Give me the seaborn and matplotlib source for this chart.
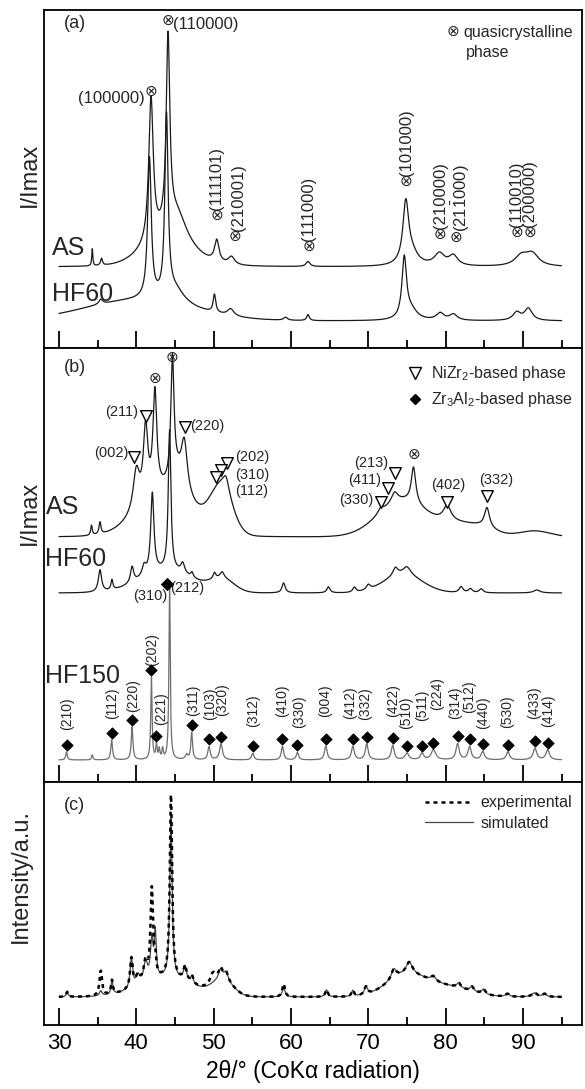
import numpy as np
import matplotlib
matplotlib.use("Agg")
import matplotlib.pyplot as plt
from matplotlib.lines import Line2D
from matplotlib.ticker import MultipleLocator
import seaborn as sns

sns.set_theme(style="white")
plt.rcParams["font.family"] = ["Liberation Sans", "DejaVu Sans"]
plt.rcParams["mathtext.fontset"] = "custom"
plt.rcParams["mathtext.rm"] = "Liberation Sans"
plt.rcParams["mathtext.it"] = "Liberation Sans:italic"
plt.rcParams["mathtext.bf"] = "Liberation Sans:bold"
plt.rcParams["mathtext.default"] = "regular"

# 2-theta scan grid (deg)
TWO_THETA = np.round(np.arange(30.0, 95.0001, 0.02), 2)

# ---------------- (a) quasicrystalline phase ----------------
A_AS_BASE = 81
A_AS_POS = [34.3, 35.5, 41.9, 44.1, 45.3, 50.4, 52.3, 62.2, 74.85, 75.6, 79.2, 81.0, 89.8, 91.2]
A_AS_HEIGHT = [17, 7, 144, 190, 28, 22, 8, 5, 60, 12, 12, 10, 10, 12]
A_AS_HWHM = [0.08, 0.15, 0.35, 0.28, 1.5, 0.35, 0.5, 0.3, 0.45, 1.0, 0.8, 0.7, 1.0, 1.0]
A_AS_HUMP_POS = [44.0]
A_AS_HUMP_HEIGHT = [25]
A_AS_HUMP_SIGMA = [3.0]

A_HF60_BASE = 27
A_HF60_POS = [35.4, 41.7, 43.9, 45.0, 50.1, 52.2, 59.3, 62.2, 74.65, 75.5, 79.3, 81.0, 89.2, 90.7]
A_HF60_HEIGHT = [5, 140, 180, 15, 18, 7, 3, 6, 60, 10, 7, 6, 8, 12]
A_HF60_HWHM = [0.3, 0.28, 0.25, 1.5, 0.2, 0.5, 0.3, 0.2, 0.35, 1.0, 0.6, 0.6, 0.6, 0.6]
A_HF60_HUMP_POS = [40.0]
A_HF60_HUMP_HEIGHT = [20]
A_HF60_HUMP_SIGMA = [7.0]

A_QC_LABELS = ["(111101)", "(210001)", "(111000)", "(101000)", "(210000)",
               r"(21$\bar{1}$000)", "(110010)", "(200000)"]
A_QC_POS = [50.37, 52.7, 62.3, 74.9, 79.3, 81.35, 89.2, 90.9]

# ---------------- (b) phase evolution ----------------
B_AS_BASE = 245
B_AS_POS = [34.2, 35.3, 40.0, 41.2, 42.4, 44.67, 45.3, 46.2, 51.6, 71.6, 73.4, 75.85, 80.2, 85.35]
B_AS_HEIGHT = [10, 12, 40, 72, 100, 123, 15, 52, 15, 5, 10, 36, 15, 20]
B_AS_HWHM = [0.12, 0.15, 0.5, 0.35, 0.3, 0.25, 0.8, 0.5, 0.5, 0.4, 0.5, 0.35, 0.6, 0.4]
B_AS_HUMP_POS = [44.0, 51.0, 74.5, 81.0, 84.5, 91.5]
B_AS_HUMP_HEIGHT = [44, 44, 36, 9, 9, 6]
B_AS_HUMP_SIGMA = [3.5, 1.4, 3.2, 2.0, 2.0, 2.0]

B_HF60_BASE = 189
B_HF60_POS = [35.3, 36.85, 39.45, 41.0, 42.07, 44.3, 46.0, 47.2, 50.1, 51.1, 59.05, 64.85,
              68.2, 70.0, 73.5, 75.0, 82.0, 83.2, 84.6, 91.8]
B_HF60_HEIGHT = [22, 10, 16, 10, 80, 140, 10, 5, 6, 6, 10, 6, 5, 5, 8, 8, 6, 4, 4, 3]
B_HF60_HWHM = [0.25, 0.15, 0.25, 0.3, 0.25, 0.2, 0.3, 0.2, 0.2, 0.3, 0.25, 0.25, 0.25, 0.3,
               0.4, 0.6, 0.3, 0.3, 0.3, 0.5]
B_HF60_HUMP_POS = [44.0, 51.2, 74.5]
B_HF60_HUMP_HEIGHT = [22, 12, 18]
B_HF60_HUMP_SIGMA = [3.5, 1.5, 2.5]

B_HF150_BASE = 22
B_HF150_POS = [30.97, 34.3, 36.81, 39.45, 41.95, 42.6, 42.97, 43.4, 44.3, 46.5, 47.16, 49.4,
               50.95, 55.05, 58.9, 60.83, 64.5, 68.0, 69.8, 73.15, 75.0, 76.95, 78.42, 81.55,
               83.1, 84.8, 88.05, 91.55, 93.2]
B_HF150_HEIGHT = [8, 5, 20, 33, 83, 14, 10, 10, 175, 5, 27, 13, 16, 6.5, 13.5, 7.5, 14, 13.5,
                  16, 14.5, 6.5, 6.5, 10, 16, 13, 8.5, 8, 11.5, 10]
B_HF150_HWHM = [0.12, 0.1, 0.13, 0.13, 0.1, 0.1, 0.1, 0.1, 0.1, 0.2, 0.13, 0.18, 0.22, 0.18,
                0.18, 0.18, 0.2, 0.22, 0.22, 0.22, 0.3, 0.25, 0.35, 0.25, 0.25, 0.25, 0.25,
                0.28, 0.28]

# Zr3Al2 reflections indexed on the HF150 pattern
ZR3AL2_LABELS = ["(210)", "(112)", "(220)", "(202)", "(221)", "(311)", "(103)", "(320)",
                 "(312)", "(410)", "(330)", "(004)", "(412)", "(332)", "(422)", "(510)",
                 "(511)", "(224)", "(314)", "(512)", "(440)", "(530)", "(433)", "(414)"]
ZR3AL2_POS = [30.97, 36.81, 39.45, 41.95, 42.6, 47.16, 49.4, 50.95, 55.05, 58.9, 60.83, 64.5,
              68.0, 69.8, 73.15, 75.0, 76.95, 78.42, 81.55, 83.1, 84.8, 88.05, 91.55, 93.2]

# NiZr2 reflections marked on the AS pattern
NIZR2_LABELS = ["(002)", "(211)", "(220)", "(202)", "(310)", "(112)", "(330)", "(411)",
                "(213)", "(402)", "(332)"]
NIZR2_POS = [39.75, 41.2, 46.26, 51.7, 50.95, 50.27, 71.6, 72.57, 73.44, 80.2, 85.36]

# ---------------- (c) Rietveld fit ----------------
C_BASE = 28
C_HUMP_POS = [44.0, 51.2, 74.8, 80.0]
C_HUMP_HEIGHT = [18, 15, 20, 10]
C_HUMP_SIGMA = [3.5, 1.3, 2.5, 3.0]

C_SIM_POS = [31.06, 35.4, 36.85, 39.36, 40.2, 41.2, 42.0, 42.45, 44.48, 46.3, 47.2, 50.9, 51.6,
             59.05, 64.6, 68.0, 69.7, 73.3, 75.3, 78.4, 81.7, 83.4, 84.9, 88.0, 91.5, 92.8]
C_SIM_HEIGHT = [5, 5, 14, 30, 10, 20, 40, 45, 160, 15, 8, 10, 8, 10, 7, 6, 8, 10, 12, 5, 5, 5,
                5, 3, 4, 3]
C_SIM_HWHM = [0.15, 0.2, 0.15, 0.2, 0.3, 0.3, 0.2, 0.15, 0.18, 0.25, 0.2, 0.3, 0.3, 0.2, 0.2,
              0.2, 0.25, 0.4, 0.5, 0.4, 0.3, 0.3, 0.3, 0.3, 0.4, 0.3]

C_EXP_POS = [31.06, 35.4, 36.85, 39.36, 40.2, 41.2, 42.0, 42.45, 44.48, 46.3, 47.2, 49.9, 50.9,
             51.6, 59.05, 64.6, 68.0, 69.7, 73.3, 75.3, 78.4, 81.7, 83.4, 84.9, 88.0, 91.5, 92.8]
C_EXP_HEIGHT = [5, 25, 14, 30, 10, 20, 90, 15, 183, 15, 8, 10, 10, 8, 13, 7, 6, 8, 10, 12, 5,
                5, 5, 5, 3, 4, 3]
C_EXP_HWHM = [0.15, 0.2, 0.15, 0.2, 0.3, 0.3, 0.2, 0.15, 0.18, 0.25, 0.2, 0.4, 0.3, 0.3, 0.2,
              0.2, 0.2, 0.25, 0.4, 0.5, 0.4, 0.3, 0.3, 0.3, 0.3, 0.4, 0.3]


def pattern(base, pos, height, hwhm, hump_pos=(), hump_height=(), hump_sigma=()):
    """Background + Gaussian amorphous humps + Lorentzian Bragg peaks."""
    x = TWO_THETA
    y = np.full(x.shape, float(base))
    for c, h, s in zip(hump_pos, hump_height, hump_sigma):
        y += h * np.exp(-0.5 * ((x - c) / s) ** 2)
    for c, h, w in zip(pos, height, hwhm):
        y += h / (1.0 + ((x - c) / w) ** 2)
    return y


def value_at(y, x0):
    return float(np.interp(x0, TWO_THETA, y))


a_as = pattern(A_AS_BASE, A_AS_POS, A_AS_HEIGHT, A_AS_HWHM,
               A_AS_HUMP_POS, A_AS_HUMP_HEIGHT, A_AS_HUMP_SIGMA)
a_hf60 = pattern(A_HF60_BASE, A_HF60_POS, A_HF60_HEIGHT, A_HF60_HWHM,
                 A_HF60_HUMP_POS, A_HF60_HUMP_HEIGHT, A_HF60_HUMP_SIGMA)
b_as = pattern(B_AS_BASE, B_AS_POS, B_AS_HEIGHT, B_AS_HWHM,
               B_AS_HUMP_POS, B_AS_HUMP_HEIGHT, B_AS_HUMP_SIGMA)
b_hf60 = pattern(B_HF60_BASE, B_HF60_POS, B_HF60_HEIGHT, B_HF60_HWHM,
                 B_HF60_HUMP_POS, B_HF60_HUMP_HEIGHT, B_HF60_HUMP_SIGMA)
b_hf150 = pattern(B_HF150_BASE, B_HF150_POS, B_HF150_HEIGHT, B_HF150_HWHM)
c_sim = pattern(C_BASE, C_SIM_POS, C_SIM_HEIGHT, C_SIM_HWHM,
                C_HUMP_POS, C_HUMP_HEIGHT, C_HUMP_SIGMA)
c_exp = pattern(C_BASE, C_EXP_POS, C_EXP_HEIGHT, C_EXP_HWHM,
                C_HUMP_POS, C_HUMP_HEIGHT, C_HUMP_SIGMA)

# ---------------- figure layout ----------------
W, H = 585, 1089
fig = plt.figure(figsize=(W / 100, H / 100), dpi=100)
LEFT, RIGHT = 43.7 / W, 582 / W


def panel(top_px, bottom_px):
    return fig.add_axes([LEFT, 1 - bottom_px / H, RIGHT - LEFT, (bottom_px - top_px) / H])


ax_a = panel(10, 348)
ax_b = panel(348, 782)
ax_c = panel(782, 1025)

for ax, ymax in ((ax_a, 338), (ax_b, 434), (ax_c, 243)):
    ax.set_xlim(28.02, 97.64)
    ax.set_ylim(0, ymax)
    ax.xaxis.set_major_locator(MultipleLocator(10))
    ax.xaxis.set_minor_locator(MultipleLocator(5))
    ax.tick_params(axis="x", which="major", direction="in", length=12, width=1.3,
                   color="black", bottom=True, top=False, labelbottom=False)
    ax.tick_params(axis="x", which="minor", direction="in", length=6, width=1.3,
                   color="black", bottom=True, top=False)
    ax.set_yticks([])
    ax.set_xlabel("")
    ax.set_ylabel("")
    for s in ax.spines.values():
        s.set_linewidth(1.3)
        s.set_color("black")

ax_c.tick_params(axis="x", which="major", labelbottom=True, labelsize=16, pad=6,
                 labelcolor="black")
ax_c.set_xlabel("2θ/° (CoKα radiation)", fontsize=16.5, color="black", labelpad=4)

TRACE = "#1a1a1a"
QC = "\u2297"
SAMPLE_FS = 18

# ---------------- panel (a) ----------------
sns.lineplot(x=TWO_THETA, y=a_as, ax=ax_a, color=TRACE, lw=0.9, estimator=None, sort=False)
sns.lineplot(x=TWO_THETA, y=a_hf60, ax=ax_a, color=TRACE, lw=0.9, estimator=None, sort=False)

ax_a.text(30.6, 325, "(a)", fontsize=13, ha="left", va="center")
ax_a.text(29.1, 100, "AS", fontsize=SAMPLE_FS, ha="left", va="center")
ax_a.text(29.1, 54, "HF60", fontsize=SAMPLE_FS, ha="left", va="center")

ax_a.text(44.1, 327, QC, fontsize=11, ha="center", va="center")
ax_a.text(44.8, 323, "(110000)", fontsize=12, ha="left", va="center")
ax_a.text(41.85, 256, QC, fontsize=11, ha="center", va="center")
ax_a.text(41.1, 250, "(100000)", fontsize=12, ha="right", va="center")

a_sym_y = [132, 110.7, 101, 166, 113, 109.7, 114.7, 114.7]
a_txt_dx = [0.0, 0.55, 0.0, 0.1, 0.0, 0.6, 0.0, 0.0]
for lab, x0, ys, dx in zip(A_QC_LABELS, A_QC_POS, a_sym_y, a_txt_dx):
    ax_a.text(x0, ys, QC, fontsize=11, ha="center", va="center")
    ax_a.text(x0 + dx, ys + 6, lab, fontsize=12, rotation=90, ha="center", va="bottom")

ax_a.text(80.96, 316, QC, fontsize=11, ha="center", va="center")
ax_a.text(82.3, 316, "quasicrystalline", fontsize=11.5, ha="left", va="center")
ax_a.text(82.6, 296, "phase", fontsize=11.5, ha="left", va="center")

# ---------------- panel (b) ----------------
sns.lineplot(x=TWO_THETA, y=b_as, ax=ax_b, color=TRACE, lw=0.9, estimator=None, sort=False)
sns.lineplot(x=TWO_THETA, y=b_hf60, ax=ax_b, color=TRACE, lw=0.9, estimator=None, sort=False)
sns.lineplot(x=TWO_THETA, y=b_hf150, ax=ax_b, color="#6e6e6e", lw=0.9, estimator=None,
             sort=False)

ax_b.text(30.6, 415, "(b)", fontsize=13, ha="left", va="center")
ax_b.text(28.3, 275, "AS", fontsize=SAMPLE_FS, ha="left", va="center")
ax_b.text(28.15, 223, "HF60", fontsize=SAMPLE_FS, ha="left", va="center")
ax_b.text(28.15, 106, "HF150", fontsize=SAMPLE_FS, ha="left", va="center")

for x0, y0 in ((42.4, 402.7), (44.67, 423.7), (75.95, 327)):
    ax_b.text(x0, y0, QC, fontsize=11, ha="center", va="center")

nizr2_y = [324.7, 366, 354.7, 318.7, 312, 305.3, 280.3, 293.7, 308.7, 280.3, 286]
sns.scatterplot(x=NIZR2_POS, y=nizr2_y, ax=ax_b, marker="v", s=70, facecolor="white",
                edgecolor="black", linewidth=1.0, zorder=5)

lab_kw = dict(fontsize=10.5)
ax_b.text(39.05, 328.7, "(002)", ha="right", va="center", **lab_kw)
ax_b.text(40.25, 370, "(211)", ha="right", va="center", **lab_kw)
ax_b.text(47.0, 356, "(220)", ha="left", va="center", **lab_kw)
ax_b.text(52.75, 325, "(202)", ha="left", va="center", **lab_kw)
ax_b.text(52.75, 307, "(310)", ha="left", va="center", **lab_kw)
ax_b.text(52.75, 291, "(112)", ha="left", va="center", **lab_kw)
ax_b.text(70.65, 282, "(330)", ha="right", va="center", **lab_kw)
ax_b.text(71.6, 302, "(411)", ha="right", va="center", **lab_kw)
ax_b.text(72.55, 319, "(213)", ha="right", va="center", **lab_kw)
ax_b.text(80.3, 297, "(402)", ha="center", va="center", **lab_kw)
ax_b.text(86.55, 302, "(332)", ha="center", va="center", **lab_kw)

# Zr3Al2 markers sit just above each indexed HF150 reflection
dia_y = [value_at(b_hf150, p) + 7 for p in ZR3AL2_POS]
sns.scatterplot(x=ZR3AL2_POS, y=dia_y, ax=ax_b, marker="D", s=34, color="black",
                edgecolor="black", linewidth=0.5, zorder=5)
main_x = B_HF150_POS[int(np.argmax(B_HF150_HEIGHT))]
sns.scatterplot(x=[main_x - 0.3], y=[value_at(b_hf150, main_x)], ax=ax_b, marker="D", s=40,
                color="black", edgecolor="black", zorder=5)
ax_b.text(41.85, 186, "(310)", ha="center", va="center", **lab_kw)
ax_b.text(46.6, 194, "(212)", ha="center", va="center", **lab_kw)

zr_txt_x = [31.06, 36.9, 39.55, 42.05, 43.19, 47.3, 49.5, 51.05, 55.05, 58.85, 61.05, 64.45,
            67.65, 69.65, 73.2, 74.95, 77.0, 78.9, 81.2, 83.1, 84.85, 88.0, 91.45, 93.25]
zr_txt_y = [52, 63, 70, 116, 57, 66, 62, 66, 55, 65, 54, 65, 63, 62, 65, 53, 61, 72, 63, 69,
            53, 54, 63, 55]
for lab, xt, yt in zip(ZR3AL2_LABELS, zr_txt_x, zr_txt_y):
    ax_b.text(xt, yt, lab, rotation=90, ha="center", va="bottom", fontsize=10)

b_handles = [
    Line2D([], [], ls="", marker="v", ms=8.5, mfc="white", mec="black", mew=1.0),
    Line2D([], [], ls="", marker="D", ms=5.5, mfc="black", mec="black"),
]
ax_b.legend(b_handles, ["NiZr$_2$-based phase", "Zr$_3$Al$_2$-based phase"],
            loc="upper right", bbox_to_anchor=(1.0, 0.985), frameon=False, fontsize=11.5,
            handlelength=0.8, handletextpad=0.6, labelspacing=0.45, borderaxespad=0.2)

# ---------------- panel (c) ----------------
sns.lineplot(x=TWO_THETA, y=c_sim, ax=ax_c, color="#4a4a4a", lw=0.9, estimator=None,
             sort=False, label="simulated")
sns.lineplot(x=TWO_THETA, y=c_exp, ax=ax_c, color="black", lw=1.8, estimator=None,
             sort=False, label="experimental", linestyle=(0, (1.6, 1.6)))
ax_c.text(30.6, 220, "(c)", fontsize=13, ha="left", va="center")
hnd, lbl = ax_c.get_legend_handles_labels()
ax_c.legend(hnd[::-1], lbl[::-1], loc="upper right", bbox_to_anchor=(1.0, 0.985),
            frameon=False, fontsize=11.5, handlelength=3.0, handletextpad=0.5,
            labelspacing=0.35, borderaxespad=0.2)

# axis titles
fig.text(30 / W, 1 - 175 / H, "I/Imax", rotation=90, ha="center", va="center", fontsize=17)
fig.text(30 / W, 1 - 513 / H, "I/Imax", rotation=90, ha="center", va="center", fontsize=17)
fig.text(21 / W, 1 - 876 / H, "Intensity/a.u.", rotation=90, ha="center", va="center",
         fontsize=17)

fig.savefig("out.png", dpi=100, facecolor="white")
